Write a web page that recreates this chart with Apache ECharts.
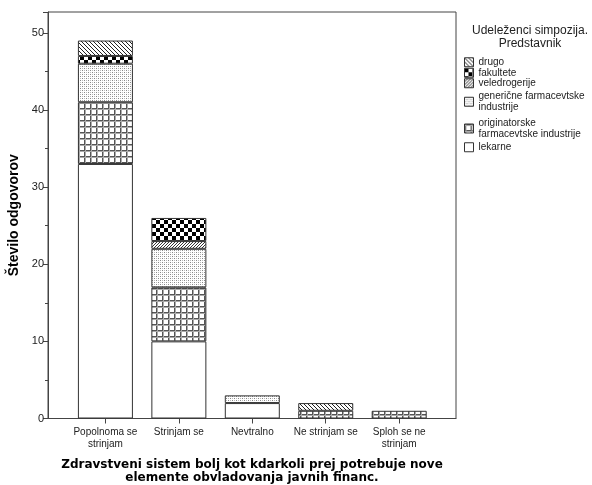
<!DOCTYPE html>
<html><head><meta charset="utf-8">
<script src="https://cdn.jsdelivr.net/npm/echarts@6/dist/echarts.min.js"></script>
<style>html,body{margin:0;padding:0;background:#fff}#c{width:592px;height:485px}</style>
</head><body><div id="c"></div>
<script>
const categories = ['Popolnoma se\nstrinjam', 'Strinjam se', 'Nevtralno', 'Ne strinjam se', 'Sploh se ne\nstrinjam'];
const lekarne = [33, 10, 2, 0, 0];
const originatorske = [8, 7, 0, 1, 1];
const genericne = [5, 5, 1, 0, 0];
const veledrogerije = [0, 1, 0, 0, 0];
const fakultete = [1, 3, 0, 0, 0];
const drugo = [2, 0, 0, 1, 0];
const yTicks = {min: 0, max: 52.7, interval: 10};

function mk(w, h, draw) {
  const c = document.createElement('canvas'); c.width = w; c.height = h;
  const g = c.getContext('2d'); g.fillStyle = '#fff'; g.fillRect(0, 0, w, h); draw(g);
  return {image: c, repeat: 'repeat'};
}
const pats = {
  lekarne: '#ffffff',
  originatorske: mk(6, 6, g => { g.fillStyle = '#555'; g.fillRect(0, 0, 6, 1); g.fillRect(0, 0, 1, 6); g.fillStyle = '#aaa'; g.fillRect(0, 1, 6, 1); g.fillRect(1, 0, 1, 6); }),
  genericne: mk(4, 4, g => { g.fillStyle = '#888'; g.fillRect(0, 0, 1, 1); g.fillRect(2, 2, 1, 1); g.fillStyle = '#bbb'; g.fillRect(2, 0, 1, 1); g.fillRect(0, 2, 1, 1); }),
  veledrogerije: mk(3, 3, g => { g.fillStyle = '#333'; g.fillRect(2, 0, 1, 1); g.fillRect(1, 1, 1, 1); g.fillRect(0, 2, 1, 1); }),
  fakultete: mk(8, 8, g => { g.fillStyle = '#000'; g.fillRect(0, 0, 4, 4); g.fillRect(4, 4, 4, 4); }),
  drugo: mk(4, 4, g => { g.fillStyle = '#222'; for (let i = 0; i < 4; i++) g.fillRect(i, i, 1, 1); })
};
const seriesDefs = [
  ['lekarne', lekarne, pats.lekarne, [0, 0, 0, 0]],
  ['originatorske\nfarmacevtske industrije', originatorske, pats.originatorske, [1, 0, 4, 0]],
  ['generične farmacevtske\nindustrije', genericne, pats.genericne, [3.5, 0, 1, 0]],
  ['veledrogerije', veledrogerije, pats.veledrogerije, [0, 0, 0, 0]],
  ['fakultete', fakultete, pats.fakultete, [0, 0, 0, 0]],
  ['drugo', drugo, pats.drugo, [0, 0, 0, 0]]
];
const font = 'Liberation Sans, Arial, sans-serif';
const chart = echarts.init(document.getElementById('c'), null, {renderer: 'canvas'});
chart.setOption({
  animation: false,
  backgroundColor: '#fff',
  grid: [
    {left: 68.7, right: 156.1, top: 12, bottom: 66.5, containLabel: false, outerBoundsMode: 'none'},
    {left: 48, right: 136, top: 12, bottom: 66.5, containLabel: false, outerBoundsMode: 'none', show: true, borderColor: '#444', borderWidth: 1, backgroundColor: 'transparent'}
  ],
  xAxis: [
    {type: 'category', gridIndex: 0, data: categories, axisLine: {show: false},
     axisTick: {show: true, alignWithLabel: true, length: 5, lineStyle: {color: '#444'}},
     axisLabel: {fontFamily: font, fontSize: 10, color: '#222', margin: 8, lineHeight: 12, interval: 0}},
    {type: 'value', gridIndex: 1, min: 0, max: 1, axisLine: {show: true, lineStyle: {color: '#444'}},
     axisTick: {show: false}, axisLabel: {show: false}, splitLine: {show: false},
     name: 'Zdravstveni sistem bolj kot kdarkoli prej potrebuje nove\nelemente obvladovanja javnih financ.',
     nameLocation: 'middle', nameGap: 40,
     nameTextStyle: {fontFamily: 'DejaVu Sans', fontWeight: 'bold', fontSize: 12, color: '#000', lineHeight: 13}}
  ],
  yAxis: [
    {type: 'value', gridIndex: 0, min: yTicks.min, max: yTicks.max, interval: yTicks.interval, show: false, splitLine: {show: false}},
    {type: 'value', gridIndex: 1, min: yTicks.min, max: yTicks.max, interval: yTicks.interval,
     axisLine: {show: true, lineStyle: {color: '#444'}},
     axisTick: {show: true, length: 5, lineStyle: {color: '#444'}},
     minorTick: {show: true, splitNumber: 2, length: 3, lineStyle: {color: '#444'}},
     splitLine: {show: false}, minorSplitLine: {show: false},
     axisLabel: {fontFamily: font, fontSize: 11, color: '#222', margin: 4, showMaxLabel: false},
     name: 'Število odgovorov', nameLocation: 'middle', nameRotate: 90, nameGap: 22,
     nameTextStyle: {fontFamily: font, fontWeight: 'bold', fontSize: 14, color: '#000'}}
  ],
  legend: {
    orient: 'vertical', left: 464, top: 57, padding: 0, itemGap: 0, itemWidth: 9, itemHeight: 9,
    icon: 'rect', itemStyle: {borderColor: '#333', borderWidth: 1},
    textStyle: {fontFamily: font, fontSize: 10, color: '#222', lineHeight: 10},
    data: seriesDefs.map(s => ({name: s[0], textStyle: {lineHeight: s[0].includes('\n') ? 11 : 10.5, padding: s[3]}})).reverse()
  },
  graphic: [
    {type: 'text', x: 530, y: 24.5, style: {text: 'Udeleženci simpozija.\nPredstavnik', fontFamily: font, fontSize: 12, fill: '#222', align: 'center', lineHeight: 13}}
  ],
  series: seriesDefs.map(([name, vals, col]) => ({
    name, type: 'bar', stack: 'total', xAxisIndex: 0, yAxisIndex: 0, barWidth: 55,
    itemStyle: {color: col, borderColor: '#333', borderWidth: 1},
    emphasis: {disabled: true},
    data: vals.map(v => v === 0 ? '-' : v)
  }))
});
</script></body></html>
